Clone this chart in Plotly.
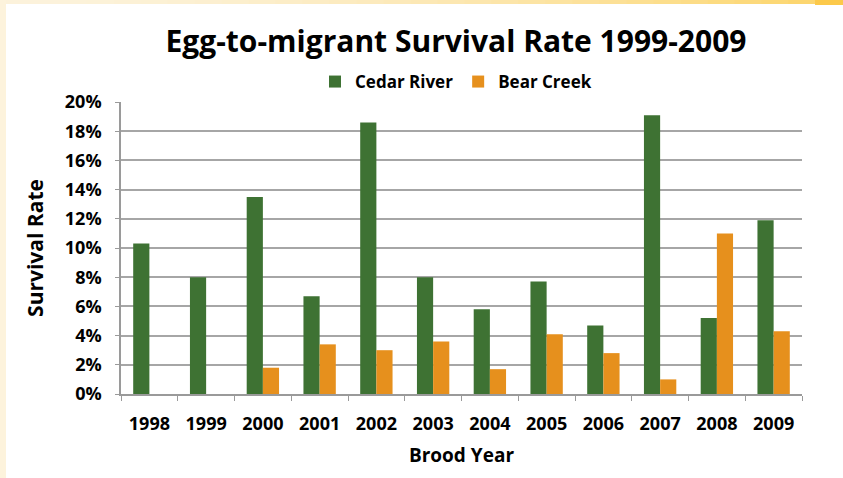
import plotly.graph_objects as go

years = ["1998", "1999", "2000", "2001", "2002", "2003", "2004", "2005", "2006", "2007", "2008", "2009"]
cedar_river = [10.3, 8.0, 13.5, 6.7, 18.6, 8.0, 5.8, 7.7, 4.7, 19.1, 5.2, 11.9]
bear_creek = [None, None, 1.8, 3.4, 3.0, 3.6, 1.7, 4.1, 2.8, 1.0, 11.0, 4.3]
y_ticks = [0, 2, 4, 6, 8, 10, 12, 14, 16, 18, 20]
y_tick_labels = [f"{v}%" for v in y_ticks]

FONT = "Open Sans"
W, H = 843, 478
L, R, T, B = 121, 41, 102, 84
PW, PH = W - L - R, H - T - B

def px2x(px):
    return (px - L) / PW

def px2y(py):
    return (H - B - py) / PH

fig = go.Figure()
fig.add_trace(go.Bar(name="<b>Cedar River</b>", x=years, y=cedar_river,
                     marker=dict(color="#3E7233", line=dict(width=0))))
fig.add_trace(go.Bar(name="<b>Bear Creek</b>", x=years, y=bear_creek,
                     marker=dict(color="#E6901D", line=dict(width=0))))

shapes = []
shapes.append(dict(type="rect", xref="paper", yref="paper",
                   x0=px2x(0), x1=px2x(6), y0=px2y(H), y1=px2y(0),
                   fillcolor="#FDF3DC", line=dict(width=0), layer="below"))
n = 30
c0 = (253, 243, 220)
c1 = (252, 214, 110)
for i in range(n):
    xa = 6 + (815 - 6) * i / n
    xb = 6 + (815 - 6) * (i + 1) / n
    t = ((i + 0.5) / n) ** 1.6
    c = tuple(int(c0[k] + (c1[k] - c0[k]) * t) for k in range(3))
    shapes.append(dict(type="rect", xref="paper", yref="paper",
                       x0=px2x(xa), x1=px2x(xb) + 0.001, y0=px2y(4), y1=px2y(0),
                       fillcolor="rgb(%d,%d,%d)" % c, line=dict(width=0), layer="below"))
shapes.append(dict(type="rect", xref="paper", yref="paper",
                   x0=px2x(0), x1=px2x(6), y0=px2y(4), y1=px2y(0),
                   fillcolor="#FDF3DC", line=dict(width=0), layer="below"))
shapes.append(dict(type="rect", xref="paper", yref="paper",
                   x0=px2x(815), x1=px2x(W), y0=px2y(5), y1=px2y(0),
                   fillcolor="#FCC94A", line=dict(width=0), layer="below"))

fig.update_layout(
    width=W, height=H,
    margin=dict(l=L, r=R, t=T, b=B, autoexpand=False),
    paper_bgcolor="white", plot_bgcolor="white",
    barmode="group", bargap=0.43, bargroupgap=0,
    font=dict(family=FONT, color="black"),
    title=dict(text="<b>Egg-to-migrant Survival Rate 1999-2009</b>",
               x=456 / W, xanchor="center", y=1 - 41 / H, yanchor="middle",
               font=dict(size=30, family=FONT, color="black")),
    legend=dict(orientation="h", x=px2x(456), xanchor="center",
                y=px2y(82), yanchor="middle",
                font=dict(size=17, family=FONT, color="black"),
                traceorder="normal", bgcolor="rgba(0,0,0,0)"),
    xaxis=dict(type="category", showline=True, linecolor="#9A9A9A", linewidth=1.5,
               ticks="outside", tickson="boundaries", ticklen=5, tickcolor="#9A9A9A",
               tickfont=dict(size=18, family=FONT, color="black"),
               ticklabelstandoff=13,
               tickvals=years, ticktext=[f"<b>{y}</b>" for y in years],
               title=dict(text="<b>Brood Year</b>", font=dict(size=19, family=FONT), standoff=14),
               showgrid=False),
    yaxis=dict(range=[0, 20], tickvals=y_ticks, ticktext=[f"<b>{t}</b>" for t in y_tick_labels],
               showline=True, linecolor="#9A9A9A", linewidth=1.5,
               ticks="outside", ticklen=4, tickcolor="#9A9A9A",
               ticklabelstandoff=10,
               showgrid=True, gridcolor="#A6A6A6", gridwidth=1.5,
               tickfont=dict(size=18, family=FONT, color="black"),
               title=dict(text="<b>Survival Rate</b>", font=dict(size=21, family=FONT), standoff=15),
               zeroline=False),
    shapes=shapes,
)

fig.write_html("out.html")
